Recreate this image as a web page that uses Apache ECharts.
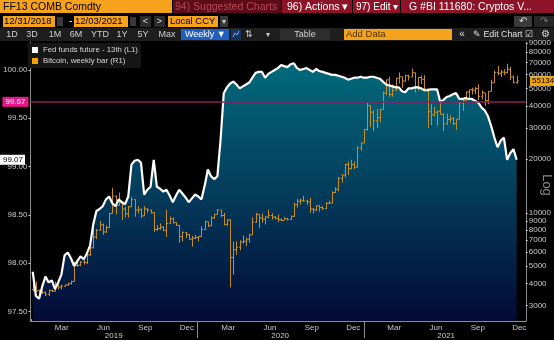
<!DOCTYPE html>
<html>
<head>
<meta charset="utf-8">
<script src="https://cdn.jsdelivr.net/npm/echarts@6/dist/echarts.min.js"></script>
<style>
  html, body { margin: 0; padding: 0; background: #000; }
  #chart { width: 554px; height: 340px; }
</style>
</head>
<body>
<div id="chart"></div>
<script>
// weekly points, first bar = week of 12/31/2018
var firstWeek = [2019, 0, 4];

// Fed funds future - 13th (left axis)
var fedFunds = [
  97.91, 97.66, 97.63, 97.76, 97.86, 97.80, 97.82, 97.73, 97.80, 97.88,
  98.08, 98.11, 98.05, 97.97, 98.02, 98.07, 98.04, 98.10, 98.18, 98.40,
  98.54, 98.56, 98.59, 98.66, 98.69, 98.62, 98.59, 98.66, 98.63, 98.61,
  98.69, 99.02, 99.06, 99.07, 99.04, 98.71, 98.76, 98.79, 99.07, 98.79,
  98.77, 98.74, 98.76, 98.70, 98.63, 98.70, 98.76, 98.72, 98.68, 98.63,
  98.67, 98.71, 98.69, 98.66, 98.80, 98.97, 98.90, 98.87, 98.90, 99.28,
  99.76, 99.82, 99.86, 99.88, 99.85, 99.81, 99.83, 99.85, 99.87, 99.92,
  99.97, 99.98, 99.98, 99.92, 99.96, 99.98, 100.00, 100.02, 100.05, 100.04,
  100.03, 100.06, 100.07, 100.02, 100.00, 100.01, 100.02, 100.00, 99.98, 100.01,
  99.99, 99.98, 99.97, 99.96, 99.95, 99.95, 99.94, 99.93, 99.92, 99.90,
  99.91, 99.92, 99.92, 99.93, 99.92, 99.92, 99.93, 99.93, 99.92, 99.91,
  99.88, 99.85, 99.84, 99.83, 99.82, 99.82, 99.78, 99.77, 99.81, 99.81,
  99.82, 99.82, 99.81, 99.79, 99.79, 99.80, 99.80, 99.80, 99.67, 99.69,
  99.72, 99.73, 99.75, 99.76, 99.70, 99.70, 99.71, 99.70, 99.70, 99.68,
  99.66, 99.61, 99.58, 99.52, 99.42, 99.30, 99.20, 99.27, 99.30, 99.07,
  99.14, 99.18, 99.07
];

// Bitcoin weekly bars [open, high, low, close] (right axis, log)
var btc2019 = [
  [3700, 4000, 3600, 3800], [3800, 4100, 3600, 3640], [3640, 3700, 3500, 3600], [3600, 3650, 3500, 3570],
  [3570, 3600, 3400, 3480], [3480, 3700, 3400, 3650], [3650, 3700, 3580, 3620], [3620, 4100, 3600, 3980],
  [3980, 4200, 3700, 3820], [3820, 3950, 3700, 3860], [3860, 3950, 3840, 3920], [3920, 4050, 3880, 3990],
  [3990, 4150, 3950, 4100], [4100, 5300, 4100, 5050], [5050, 5450, 4950, 5070], [5070, 5350, 5000, 5280],
  [5280, 5600, 5100, 5250], [5250, 5900, 5150, 5800], [5800, 6400, 5700, 6350], [6350, 8300, 6300, 7300],
  [7300, 8100, 7100, 7980], [7980, 9000, 7900, 8550], [8550, 8700, 7500, 7800], [7800, 8500, 7700, 8250],
  [8250, 10000, 8200, 9900], [9900, 13800, 9900, 12400], [12400, 12500, 9800, 11000], [11000, 13000, 11000, 11400],
  [11400, 11600, 9100, 10500], [10500, 10800, 9400, 9850], [9850, 10900, 9400, 10800], [10800, 12300, 10800, 11850],
  [11850, 11900, 9500, 10350], [10350, 10900, 9900, 10400], [10400, 10600, 9350, 9600], [9600, 10900, 9600, 10500],
  [10500, 10600, 10000, 10350], [10350, 10400, 9900, 10000], [10000, 10100, 7800, 8050], [8050, 8500, 7900, 8150],
  [8150, 8700, 8000, 8300], [8300, 8400, 7900, 7950], [7950, 10400, 7300, 8700], [8700, 9500, 8700, 9250],
  [9250, 9400, 8700, 8800], [8800, 8850, 8450, 8500], [8500, 8500, 6800, 7350], [7350, 7850, 6900, 7750],
  [7750, 7800, 7200, 7550], [7550, 7600, 7050, 7100], [7100, 7400, 6450, 7200], [7200, 7500, 7100, 7250]
];
var btc2020 = [
  [7250, 7400, 6900, 7350], [7350, 8400, 7300, 8050], [8050, 9000, 8000, 8900], [8900, 8900, 8300, 8450],
  [8450, 9550, 8400, 9350], [9350, 9850, 9250, 9800], [9800, 10500, 9750, 10350], [10350, 10350, 9450, 9650],
  [9650, 10000, 8500, 8600], [8600, 9200, 8400, 9100], [9100, 9200, 3800, 5600], [5600, 6900, 4500, 6200],
  [6200, 6900, 5800, 6400], [6400, 7000, 6150, 6850], [6850, 7450, 6700, 6900], [6900, 7250, 6500, 7100],
  [7100, 7600, 6800, 7500], [7500, 9450, 7500, 8850], [8850, 10000, 8800, 9800], [9800, 9800, 8200, 9350],
  [9350, 9900, 8800, 9200], [9200, 9600, 8600, 9450], [9450, 10400, 9300, 9650], [9650, 9950, 9150, 9450],
  [9450, 9600, 9200, 9300], [9300, 9800, 8850, 9150], [9150, 9300, 8950, 9050], [9050, 9450, 9050, 9250],
  [9250, 9350, 9050, 9150], [9150, 9650, 9100, 9550], [9550, 11400, 9500, 11100], [11100, 12000, 10700, 11600],
  [11600, 12000, 11100, 11750], [11750, 12450, 11500, 11650], [11650, 11800, 11100, 11500], [11500, 12100, 10000, 10500],
  [10500, 10600, 9900, 10400], [10400, 11000, 10200, 10950], [10950, 11000, 10150, 10700], [10700, 10900, 10400, 10550],
  [10550, 11500, 10500, 11300], [11300, 11700, 11200, 11350], [11350, 13200, 11300, 13000], [13000, 13900, 12900, 13550],
  [13550, 15900, 13200, 15600], [15600, 16500, 14800, 16300], [16300, 18800, 15800, 18700], [18700, 19400, 16300, 17700],
  [17700, 19900, 17600, 18650], [18650, 19400, 17600, 18050], [18050, 23700, 18000, 23100], [23100, 24800, 22300, 24700]
];
var btc2021 = [
  [24700, 29600, 24700, 29400], [29400, 41900, 29000, 40100], [40100, 40100, 30300, 36800], [36800, 37800, 28800, 33000],
  [33000, 38500, 30000, 34300], [34300, 38300, 32300, 38200], [38200, 48200, 38000, 47200], [47200, 56300, 46000, 55900],
  [55900, 58300, 44900, 46300], [46300, 52600, 45000, 48800], [48800, 57300, 48500, 57200], [57200, 61700, 53300, 58200],
  [58200, 58600, 50400, 55100], [55100, 60000, 54700, 59000], [59000, 59900, 55500, 58100], [58100, 64800, 58000, 61400],
  [61400, 61500, 47500, 51200], [51200, 58000, 48800, 57700], [57700, 59500, 53000, 56400], [56400, 59500, 48600, 49800],
  [49800, 50000, 30000, 37000], [37000, 40800, 31200, 35600], [35600, 39500, 34900, 36800], [36800, 37300, 31000, 37300],
  [37300, 41200, 35800, 35800], [35800, 36100, 28800, 31600], [31600, 36100, 31300, 33500], [33500, 35400, 32100, 33800],
  [33800, 34600, 31200, 31800], [31800, 33700, 29300, 33600], [33600, 42300, 33500, 41600], [41600, 43300, 37400, 42900],
  [42900, 48100, 42800, 47800], [47800, 49400, 43900, 49300], [49300, 50500, 46300, 48900], [48900, 51000, 46500, 50000],
  [50000, 52900, 43000, 45200], [45200, 48800, 43400, 47300], [47300, 47300, 40000, 42800], [42800, 48300, 40800, 48200],
  [48200, 56000, 48100, 53900], [53900, 62900, 53800, 61500], [61500, 67000, 59500, 61000], [61000, 63700, 58000, 61900],
  [61900, 64200, 59500, 61400], [61400, 69000, 60700, 64200], [64200, 66300, 55700, 58100], [58100, 59200, 53500, 54000],
  [54000, 59100, 53200, 55134]
];

var leftTicks = [97.5, 98.0, 98.5, 99.0, 99.5, 100.0];
var rightTicks = [3000, 4000, 5000, 6000, 7000, 8000, 9000, 10000, 20000, 30000, 40000, 50000, 60000, 70000, 80000, 90000];
var labelMonths = [2, 5, 8, 11];
var monthNames = ['Jan', 'Feb', 'Mar', 'Apr', 'May', 'Jun', 'Jul', 'Aug', 'Sep', 'Oct', 'Nov', 'Dec'];
var years = [2019, 2020, 2021];
var refLevel = 99.67;

var fedName = 'Fed funds future - 13th (L1)';
var btcName = 'Bitcoin, weekly bar (R1)';
var btcColor = '#c98c24';
var FONT = '"Liberation Sans", Arial, sans-serif';

var chart = echarts.init(document.getElementById('chart'));

// build series data (x = timestamp on a numeric axis)
var weekDates = fedFunds.map(function (v, i) {
  return new Date(firstWeek[0], firstWeek[1], firstWeek[2] + 7 * i).getTime();
});
var btcBars = btc2019.concat(btc2020, btc2021);
var fedData = fedFunds.map(function (v, i) { return [weekDates[i], v]; });
var btcData = btcBars.map(function (b, i) { return [weekDates[i], b[0], b[1], b[2], b[3]]; });

var monthTicks = [], monthLabelTicks = [], yearMid = [], yearSep = [];
years.forEach(function (y, k) {
  for (var m = 0; m < 12; m++) monthTicks.push(new Date(y, m, 1).getTime());
  labelMonths.forEach(function (m) { monthLabelTicks.push(new Date(y, m, 1).getTime()); });
  yearMid.push(new Date(y, 6, 1).getTime());
  if (k > 0) yearSep.push(new Date(y, 0, 1).getTime());
});

var xMin = new Date(2018, 11, 30).getTime();
var xMax = new Date(2021, 11, 23).getTime();

var axisGrey = '#8c8c8c';
var labelGrey = '#c8c8c8';

var option = {
  backgroundColor: '#000',
  animation: false,
  textStyle: { fontFamily: FONT },
  grid: { left: 27, right: 27, top: 42, bottom: 17 },
  legend: {
    left: 28, top: 43,
    orient: 'vertical',
    itemWidth: 6, itemHeight: 6, itemGap: 3,
    padding: [3, 3, 3, 4],
    backgroundColor: '#161616',
    textStyle: { color: '#d8d8d8', fontSize: 7.8 },
    data: [
      { name: fedName, icon: 'rect', itemStyle: { color: '#ffffff' } },
      { name: btcName, icon: 'rect', itemStyle: { color: '#f5a300' } }
    ]
  },
  xAxis: [{
    type: 'value', min: xMin, max: xMax, scale: true,
    axisLine: { lineStyle: { color: axisGrey, width: 1 } },
    axisTick: { customValues: monthTicks, inside: true, length: 2, lineStyle: { color: '#9a9a9a' } },
    axisLabel: {
      customValues: monthLabelTicks, color: labelGrey, fontSize: 8, margin: 3,
      padding: [0, 0, 0, 7],
      formatter: function (v) { return monthNames[new Date(v).getMonth()]; }
    },
    splitLine: { show: false }
  }, {
    type: 'value', min: xMin, max: xMax, scale: true, position: 'bottom',
    axisLine: { show: false },
    axisTick: { customValues: yearSep, length: 17, lineStyle: { color: axisGrey } },
    axisLabel: {
      customValues: yearMid, color: labelGrey, fontSize: 8, margin: 11,
      formatter: function (v) { return String(new Date(v).getFullYear()); }
    },
    splitLine: { show: false }
  }],
  yAxis: [{
    type: 'value', min: 97.40, max: 100.29, position: 'left',
    axisLine: { show: true, lineStyle: { color: axisGrey } },
    axisTick: { show: true, customValues: leftTicks, length: 2, lineStyle: { color: labelGrey } },
    axisLabel: {
      customValues: leftTicks, color: labelGrey, fontSize: 8, margin: 3,
      formatter: function (v) { return v.toFixed(2); }
    },
    splitLine: { show: false }
  }, {
    type: 'log', logBase: 10, min: 2460, max: 91400, position: 'right',
    axisLine: { show: true, lineStyle: { color: axisGrey } },
    axisTick: { show: true, customValues: rightTicks, length: 2, lineStyle: { color: labelGrey } },
    axisLabel: {
      customValues: rightTicks, color: labelGrey, fontSize: 8, margin: 3,
      formatter: function (v) { return String(Math.round(v)); }
    },
    splitLine: { show: false }
  }],
  series: [{
    name: fedName, type: 'line', xAxisIndex: 0, yAxisIndex: 0,
    data: fedData, showSymbol: false, silent: true, z: 1,
    lineStyle: { width: 0, opacity: 0 },
    areaStyle: {
      opacity: 1,
      color: new echarts.graphic.LinearGradient(0, 0, 0, 1, [
        { offset: 0, color: '#026a7b' },
        { offset: 0.45, color: '#04415f' },
        { offset: 1, color: '#020a36' }
      ])
    },
    markLine: {
      silent: true, symbol: 'none',
      lineStyle: { color: '#8a1f5c', width: 1.5, type: 'solid' },
      label: {
        position: 'start', distance: 2, formatter: refLevel.toFixed(2),
        color: '#ffffff', fontSize: 8, backgroundColor: '#e8168a', padding: [1, 3]
      },
      data: [{ yAxis: refLevel }]
    }
  }, {
    name: btcName, type: 'custom', xAxisIndex: 0, yAxisIndex: 1,
    data: btcData, silent: true, z: 2,
    encode: { x: 0, y: [1, 2, 3, 4] },
    itemStyle: { color: btcColor },
    renderItem: function (params, api) {
      var t = api.value(0);
      var o = api.coord([t, api.value(1)]);
      var h = api.coord([t, api.value(2)]);
      var l = api.coord([t, api.value(3)]);
      var c = api.coord([t, api.value(4)]);
      var x = Math.round(h[0]) + 0.5;
      return {
        type: 'group',
        children: [
          { type: 'line', shape: { x1: x, y1: h[1], x2: x, y2: l[1] }, style: { stroke: btcColor, lineWidth: 1 } },
          { type: 'line', shape: { x1: x - 1.5, y1: o[1], x2: x, y2: o[1] }, style: { stroke: btcColor, lineWidth: 1 } },
          { type: 'line', shape: { x1: x, y1: c[1], x2: x + 1.5, y2: c[1] }, style: { stroke: btcColor, lineWidth: 1 } }
        ]
      };
    }
  }, {
    name: fedName, type: 'line', xAxisIndex: 0, yAxisIndex: 0,
    data: fedData, showSymbol: false, silent: true, z: 3,
    lineStyle: { color: '#ffffff', width: 2.2 }
  }]
};
chart.setOption(option);

// header bar and last-value tags
function box(x, y, w, h, fill) {
  return { type: 'rect', silent: true, shape: { x: x, y: y, width: w, height: h }, style: { fill: fill } };
}
function txt(s, x, y, size, color, align) {
  return {
    type: 'text', silent: true, x: x, y: y,
    style: {
      text: s, fill: color, font: size + 'px ' + FONT,
      align: align || 'left', textAlign: align || 'left',
      verticalAlign: 'middle', textVerticalAlign: 'middle'
    }
  };
}

var orange = '#f7a21c';
var red = '#8d1428';
var els = [
  box(0, 0, 172, 13, orange), txt('FF13 COMB Comdty', 3, 7, 10.5, '#000'),
  box(173, 0, 108, 13, '#5c0c18'), txt('94) Suggested Charts', 175, 7, 10.5, '#b8475c'),
  box(282, 0, 70, 13, red), txt('96) Actions \u25BE', 287, 7, 10.5, '#fff'),
  box(353, 0, 47, 13, red), txt('97) Edit \u25BE', 356, 7, 10, '#fff'),
  box(401, 0, 153, 13, red), txt('G #BI 111680: Cryptos V...', 409, 7, 10.5, '#fff'),

  box(3, 16, 52, 11, orange), txt('12/31/2018', 4, 21.5, 9.5, '#000'),
  box(57, 17, 6, 9, '#3a3a3a'),
  txt('-', 69, 21, 10, '#fff'),
  box(74, 16, 54, 11, orange), txt('12/03/2021', 75, 21.5, 9.5, '#000'),
  box(130, 17, 6, 9, '#3a3a3a'),
  box(140, 16, 11, 11, '#2b2b2b'), txt('<', 145.5, 21.5, 9, '#ddd', 'center'),
  box(154, 16, 11, 11, '#2b2b2b'), txt('>', 159.5, 21.5, 9, '#ddd', 'center'),
  box(168, 16, 50, 11, orange), txt('Local CCY', 170, 21.5, 9.5, '#000'),
  box(220, 16, 8, 11, '#3a3a3a'), txt('\u25BE', 224, 21.5, 8, '#ccc', 'center'),
  box(514, 16, 18, 11, '#3a3a3a'), txt('\u21B6', 523, 21.5, 10, '#ddd', 'center'),
  box(534, 16, 20, 11, '#262626'), txt('\u21B7', 544, 21.5, 10, '#777', 'center'),

  box(0, 28, 554, 13, '#1e1e1e')
];
[['1D', 12], ['3D', 32], ['1M', 55], ['6M', 76], ['YTD', 100], ['1Y', 122], ['5Y', 143], ['Max', 167]].forEach(function (b) {
  els.push(txt(b[0], b[1], 34.5, 9, '#d0d0d0', 'center'));
});
els.push(
  box(181, 29, 48, 11, '#1f5fbf'), txt('Weekly \u25BC', 185, 34.5, 9, '#fff'),
  box(231, 29, 10, 11, '#17335f'),
  { type: 'polyline', silent: true, shape: { points: [[233, 37], [235, 33], [237, 35], [239, 31]] }, style: { stroke: '#7fb0ff', lineWidth: 1, fill: null } },
  txt('\u21C5', 249, 34.5, 9, '#ccc', 'center'),
  txt('\u25BE', 268, 34.5, 8, '#ccc', 'center'),
  box(280, 29, 50, 11, '#2e2e2e'), txt('Table', 305, 34.5, 9, '#d0d0d0', 'center'),
  box(344, 29, 108, 11, orange), txt('Add Data', 346, 34.5, 9.5, '#4a3200'),
  txt('\u00AB', 462, 34, 10, '#ddd', 'center'),
  txt('\u270E Edit Chart', 473, 34.5, 8.8, '#e0e0e0'),
  txt('\u2611', 529, 34.5, 9, '#ddd', 'center'),
  txt('\u2699', 545, 34.5, 10, '#ddd', 'center')
);

// "Log" marker on the right axis
els.push({
  type: 'text', silent: true, x: 547, y: 185, rotation: -Math.PI / 2,
  style: { text: 'Log', fill: '#8a8a8a', font: '13px ' + FONT, align: 'center', textAlign: 'center', verticalAlign: 'middle', textVerticalAlign: 'middle' }
});

// last value tags
var lastFed = fedFunds[fedFunds.length - 1];
var lastBtc = btcBars[btcBars.length - 1][3];
var yFed = chart.convertToPixel({ yAxisIndex: 0 }, lastFed);
var yBtc = chart.convertToPixel({ yAxisIndex: 1 }, lastBtc);
els.push(
  box(0, yFed - 5, 25, 10, '#ffffff'), txt(lastFed.toFixed(2), 23, yFed, 8, '#000', 'right'),
  box(530, yBtc - 5, 24, 10, '#f5a300'), txt(String(lastBtc), 532, yBtc, 8, '#000')
);

chart.setOption({ graphic: els });
</script>
</body>
</html>
